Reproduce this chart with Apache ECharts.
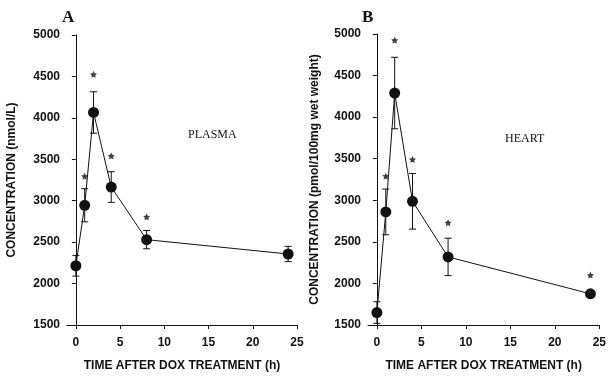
<!DOCTYPE html>
<html>
<head>
<meta charset="utf-8">
<script src="https://cdn.jsdelivr.net/npm/echarts@6/dist/echarts.min.js"></script>
<style>html,body{margin:0;padding:0;background:#fff}#c{width:609px;height:377px}</style>
</head>
<body>
<div id="c"></div>
<script>
// ---- data ----
const times = [0, 1, 2, 4, 8, 24];
const plasmaMean = [2215, 2945, 4065, 3165, 2530, 2357];
const plasmaErr = [125, 200, 250, 185, 110, 92];
const plasmaStarTimes = [1, 2, 4, 8];
const plasmaStarY = [3295, 4525, 3540, 2805];
const heartMean = [1650, 2860, 4290, 2988, 2319, 1875];
const heartErr = [130, 275, 430, 335, 225, 25];
const heartStarTimes = [1, 2, 4, 8, 24];
const heartStarY = [3290, 4925, 3490, 2730, 2100];
const yTicks = [1500, 2000, 2500, 3000, 3500, 4000, 4500, 5000];
const xTicks = [0, 5, 10, 15, 20, 25];
const panelLetters = ['A', 'B'];
const panelLabels = ['PLASMA', 'HEART'];
const yNames = ['CONCENTRATION (nmol/L)', 'CONCENTRATION (pmol/100mg wet weight)'];
const xName = 'TIME AFTER DOX TREATMENT (h)';

const STAR = 'path://M0,-10 L2.9,-4 L9.5,-3.1 L4.7,1.5 L5.9,8.1 L0,5 L-5.9,8.1 L-4.7,1.5 L-9.5,-3.1 L-2.9,-4 Z';
const ink = '#111';
const sans = 'Liberation Sans, Arial, sans-serif';
const serif = 'Liberation Serif, Times New Roman, serif';

function pairs(xs, ys) { return xs.map((x, i) => [x, ys[i]]); }
function errData(means, errs) { return times.map((t, i) => [t, means[i] - errs[i], means[i] + errs[i]]); }

function errSeries(idx, means, errs) {
  return {
    type: 'custom', xAxisIndex: idx, yAxisIndex: idx, z: 3,
    data: errData(means, errs),
    encode: { x: 0, y: [1, 2] },
    renderItem: function (params, api) {
      const x = api.value(0);
      const lo = api.coord([x, api.value(1)]);
      const hi = api.coord([x, api.value(2)]);
      const w = 3.5;
      const st = { stroke: ink, lineWidth: 1 };
      return { type: 'group', children: [
        { type: 'line', shape: { x1: lo[0], y1: lo[1], x2: hi[0], y2: hi[1] }, style: st },
        { type: 'line', shape: { x1: hi[0] - w, y1: hi[1], x2: hi[0] + w, y2: hi[1] }, style: st },
        { type: 'line', shape: { x1: lo[0] - w, y1: lo[1], x2: lo[0] + w, y2: lo[1] }, style: st }
      ]};
    }
  };
}

function xAxis(idx) {
  return {
    type: 'value', gridIndex: idx, min: -1, max: 25,
    axisLine: { show: true, onZero: false, lineStyle: { color: ink, width: 1 } },
    axisTick: { show: true, length: 4, lineStyle: { color: ink }, customValues: xTicks },
    axisLabel: { color: ink, fontFamily: sans, fontWeight: 'bold', fontSize: 12, margin: 12,
      customValues: xTicks, formatter: v => String(v) },
    splitLine: { show: false },
    name: xName, nameLocation: 'middle', nameGap: 35,
    nameTextStyle: { color: ink, fontFamily: sans, fontWeight: 'bold', fontSize: 12 }
  };
}
function yAxis(idx) {
  return {
    type: 'value', gridIndex: idx, min: yTicks[0], max: yTicks[yTicks.length - 1], interval: 500,
    axisLine: { show: true, lineStyle: { color: ink, width: 1 } },
    axisTick: { show: true, length: 4, lineStyle: { color: ink } },
    axisLabel: { color: ink, fontFamily: sans, fontWeight: 'bold', fontSize: 12, margin: 7,
      formatter: v => String(v) },
    splitLine: { show: false },
    name: yNames[idx], nameLocation: 'middle', nameGap: idx === 0 ? 49 : 47,
    nameTextStyle: { color: ink, fontFamily: sans, fontWeight: 'bold', fontSize: 12 }
  };
}

const chart = echarts.init(document.getElementById('c'), null, { renderer: 'canvas' });
const option = {
  backgroundColor: '#fff',
  animation: false,
  grid: [
    { left: 67, top: 35, width: 230, height: 291 },
    { left: 368, top: 34, width: 237, height: 292 }
  ],
  title: [
    { text: panelLetters[0], left: 57, top: 4, textStyle: { fontFamily: serif, fontWeight: 'bold', fontSize: 17, color: ink } },
    { text: panelLetters[1], left: 357, top: 4, textStyle: { fontFamily: serif, fontWeight: 'bold', fontSize: 17, color: ink } },
    { text: panelLabels[0], left: 183, top: 124, textStyle: { fontFamily: serif, fontWeight: 'normal', fontSize: 12, color: ink } },
    { text: panelLabels[1], left: 500, top: 128, textStyle: { fontFamily: serif, fontWeight: 'normal', fontSize: 12, color: ink } }
  ],
  xAxis: [xAxis(0), xAxis(1)],
  yAxis: [yAxis(0), yAxis(1)],
  series: [
    errSeries(0, plasmaMean, plasmaErr),
    { type: 'line', xAxisIndex: 0, yAxisIndex: 0, data: pairs(times, plasmaMean), z: 4,
      symbol: 'circle', symbolSize: 11, itemStyle: { color: ink }, lineStyle: { color: ink, width: 1 } },
    { type: 'scatter', xAxisIndex: 0, yAxisIndex: 0, data: pairs(plasmaStarTimes, plasmaStarY),
      symbol: STAR, symbolSize: 7, itemStyle: { color: ink } },
    errSeries(1, heartMean, heartErr),
    { type: 'line', xAxisIndex: 1, yAxisIndex: 1, data: pairs(times, heartMean), z: 4,
      symbol: 'circle', symbolSize: 11, itemStyle: { color: ink }, lineStyle: { color: ink, width: 1 } },
    { type: 'scatter', xAxisIndex: 1, yAxisIndex: 1, data: pairs(heartStarTimes, heartStarY),
      symbol: STAR, symbolSize: 7, itemStyle: { color: ink } }
  ]
};
chart.setOption(option);
</script>
</body>
</html>
